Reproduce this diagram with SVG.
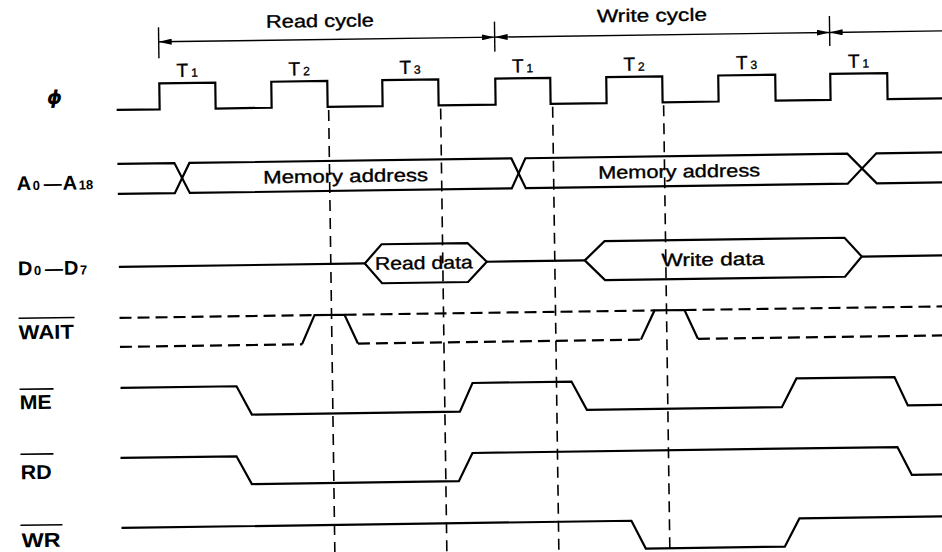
<svg xmlns="http://www.w3.org/2000/svg" width="942" height="552" viewBox="0 0 942 552">
<style>
.sig{fill:none;stroke:#000;stroke-width:2.2;stroke-linejoin:miter}
.wd{fill:none;stroke:#000;stroke-width:2.2;stroke-dasharray:12 6}
.guide{fill:none;stroke:#000;stroke-width:1.6;stroke-dasharray:11 7}
.thin{fill:none;stroke:#000;stroke-width:1.4}
.ov{stroke:#000;stroke-width:1.6}
.t{font-family:"Liberation Sans",Arial,sans-serif;font-size:18px;fill:#000;stroke:#000;stroke-width:0.35}
.lb{font-family:"Liberation Sans",Arial,sans-serif;font-size:20px;font-weight:bold;fill:#000}
.tt{font-family:"Liberation Sans",Arial,sans-serif;font-size:19px;fill:#000;stroke:#000;stroke-width:0.35;text-anchor:middle}
.sub{font-size:12px}
.lsub{font-size:13px}
</style>
<defs>
<marker id="arr" viewBox="0 0 13 6" refX="13" refY="3" markerWidth="13" markerHeight="6" markerUnits="userSpaceOnUse" orient="auto-start-reverse">
<path d="M0,0 L13,3 L0,6 z" fill="#000"/>
</marker>
</defs>
<rect width="942" height="552" fill="#fff"/>
<g transform="rotate(-0.8 470 276)">
<g id="connectors">
<line class="thin" x1="162" y1="37.5" x2="498" y2="37.5" marker-start="url(#arr)" marker-end="url(#arr)"/>
<line class="thin" x1="498" y1="37.5" x2="833" y2="37.5" marker-start="url(#arr)" marker-end="url(#arr)"/>
<line class="thin" x1="833" y1="37.5" x2="960" y2="37.5" marker-start="url(#arr)"/>
<line class="thin" x1="162" y1="23" x2="162" y2="54"/>
<line class="thin" x1="498" y1="22" x2="498" y2="52"/>
<line class="thin" x1="833" y1="21" x2="833" y2="51"/>
<line class="guide" x1="331" y1="108" x2="331" y2="570"/>
<line class="guide" x1="443" y1="108" x2="443" y2="570"/>
<line class="guide" x1="555" y1="108" x2="555" y2="570"/>
<line class="guide" x1="666" y1="108" x2="666" y2="570"/>
</g>
<g id="cycles">
<text class="t" x="323.5" y="25" text-anchor="middle" textLength="108" lengthAdjust="spacingAndGlyphs">Read cycle</text>
<text class="t" x="655.5" y="24" text-anchor="middle" textLength="110" lengthAdjust="spacingAndGlyphs">Write cycle</text>
</g>
<g id="sig-phi">
<text x="57" y="98" text-anchor="middle" font-family="DejaVu Sans, sans-serif" font-size="19" font-weight="bold" font-style="italic">ϕ</text>
<path class="sig" d="M119 105 H162 V79 H218 V105 H274 V79 H330 V105 H385 V79 H441 V105 H498 V79 H553 V105 H609 V79 H665 V105 H721 V79 H778 V105 H833 V79 H890 V105 H960"/>
<text class="tt" x="190" y="73">T<tspan class="sub" dx="3">1</tspan></text>
<text class="tt" x="302" y="73">T<tspan class="sub" dx="3">2</tspan></text>
<text class="tt" x="413" y="73">T<tspan class="sub" dx="3">3</tspan></text>
<text class="tt" x="525.5" y="73">T<tspan class="sub" dx="3">1</tspan></text>
<text class="tt" x="637" y="73">T<tspan class="sub" dx="3">2</tspan></text>
<text class="tt" x="749.5" y="73">T<tspan class="sub" dx="3">3</tspan></text>
<text class="tt" x="861.5" y="73">T<tspan class="sub" dx="3">1</tspan></text>
</g>
<g id="sig-addr">
<text class="lb" y="184"><tspan x="18">A</tspan><tspan x="34" class="lsub">0</tspan><tspan x="45" font-size="18">—</tspan><tspan x="64">A</tspan><tspan x="80" class="lsub">18</tspan></text>
<path class="sig" d="M119 159 H176 L191 189 H513 L527 159 H849 L878 189 H960"/>
<path class="sig" d="M119 189 H176 L191 159 H513 L527 189 H849 L878 159 H960"/>
<text class="t" x="347" y="180.5" text-anchor="middle" textLength="165" lengthAdjust="spacingAndGlyphs">Memory address</text>
<text class="t" x="680.5" y="180.5" text-anchor="middle" textLength="162" lengthAdjust="spacingAndGlyphs">Memory address</text>
</g>
<g id="sig-data">
<text class="lb" y="269"><tspan x="18">D</tspan><tspan x="34" class="lsub">0</tspan><tspan x="45" font-size="18">—</tspan><tspan x="64">D</tspan><tspan x="80" class="lsub">7</tspan></text>
<path class="sig" d="M119 262 H365 M487 262 H585 M862 262 H960"/>
<polygon class="sig" points="365,262 382,243 468,243 487,262 468,282 382,282"/>
<polygon class="sig" points="585,262 605,243 845,243 862,262 845,282 605,282"/>
<text class="t" x="424" y="268.5" text-anchor="middle" textLength="98" lengthAdjust="spacingAndGlyphs">Read data</text>
<text class="t" x="713" y="269" text-anchor="middle" textLength="103" lengthAdjust="spacingAndGlyphs">Write data</text>
</g>
<g id="sig-wait">
<text class="lb" x="18" y="333" textLength="55" lengthAdjust="spacingAndGlyphs">WAIT</text>
<line class="ov" x1="18" y1="312" x2="74" y2="312"/>
<path class="wd" d="M119 313 H314 M344 313 H654 M684 313 H960"/>
<path class="wd" d="M119 342 H301 M357 342 H640 M697 342 H960"/>
<path class="sig" d="M301 342 L314 313 H344 L357 342"/>
<path class="sig" d="M640 342 L654 313 H684 L697 342"/>
</g>
<g id="sig-me">
<text class="lb" x="18" y="403" textLength="32" lengthAdjust="spacingAndGlyphs">ME</text>
<line class="ov" x1="18" y1="383" x2="52" y2="383"/>
<path class="sig" d="M119 383 H235 L250 411.5 H458 L471 383 H570 L585 411.5 H780 L795 383 H893 L906 411.5 H960"/>
</g>
<g id="sig-rd">
<text class="lb" x="18" y="473" textLength="31" lengthAdjust="spacingAndGlyphs">RD</text>
<line class="ov" x1="18" y1="448" x2="51" y2="448"/>
<path class="sig" d="M118 453 H234 L249 481 H456 L470 453 H895 L909 481 H960"/>
</g>
<g id="sig-wr">
<text class="lb" x="18" y="541" textLength="39" lengthAdjust="spacingAndGlyphs">WR</text>
<line class="ov" x1="17" y1="519" x2="59" y2="519"/>
<path class="sig" d="M118 523 H628 L642 551 H781 L796 523 H960"/>
</g>
</g>
</svg>
